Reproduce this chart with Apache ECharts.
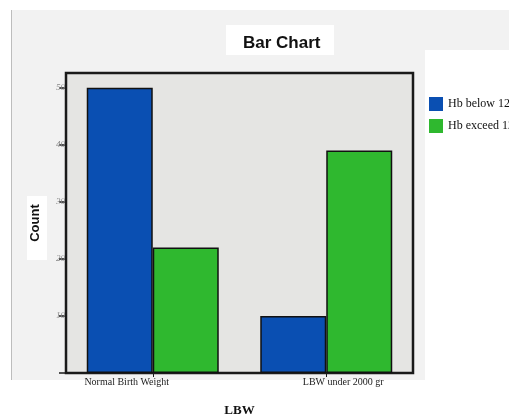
<!DOCTYPE html>
<html>
<head>
<meta charset="utf-8">
<script src="https://cdn.jsdelivr.net/npm/echarts@6/dist/echarts.min.js"></script>
<style>
  html, body { margin: 0; padding: 0; background: #ffffff; }
  #chart { width: 509px; height: 419px; }
</style>
</head>
<body>
<div id="chart"></div>
<script>
// Birth-weight groups and haemoglobin counts
const categories = ['Normal Birth Weight', 'LBW under 2000 gr'];
const hbBelow12 = [50, 10];
const hbExceed12 = [22, 39];
const yTickValues = [0, 10, 20, 30, 40, 50];

const chart = echarts.init(document.getElementById('chart'), null, { renderer: 'canvas' });

chart.setOption({
  animation: false,
  backgroundColor: '#ffffff',
  graphic: [
    // light panel behind the chart
    { type: 'rect', z: -10, shape: { x: 11, y: 10, width: 498, height: 370 }, style: { fill: '#f2f2f2' } },
    { type: 'line', z: -9, shape: { x1: 11.5, y1: 10, x2: 11.5, y2: 419 }, style: { stroke: '#bdbdbd', lineWidth: 1 } },
    // white boxes behind title, axis name and legend
    { type: 'rect', z: -8, shape: { x: 226, y: 25, width: 108, height: 30 }, style: { fill: '#ffffff' } },
    { type: 'rect', z: -8, shape: { x: 27, y: 196, width: 20, height: 64 }, style: { fill: '#ffffff' } },
    { type: 'rect', z: -8, shape: { x: 425, y: 50, width: 84, height: 350 }, style: { fill: '#ffffff' } },
    { type: 'rect', z: -8, shape: { x: 11, y: 380, width: 498, height: 39 }, style: { fill: '#ffffff' } }
  ],
  title: {
    text: 'Bar Chart',
    left: 238,
    top: 30,
    textStyle: { fontFamily: 'Liberation Sans, Arial, sans-serif', fontSize: 17, fontWeight: 'bold', color: '#111' }
  },
  legend: {
    orient: 'vertical',
    left: 424,
    top: 92,
    itemWidth: 14,
    itemHeight: 14,
    itemGap: 8,
    icon: 'rect',
    itemStyle: { borderWidth: 0 },
    textStyle: { fontFamily: 'Liberation Serif, Times New Roman, serif', fontSize: 12, color: '#111' },
    data: ['Hb below 12', 'Hb exceed 12']
  },
  grid: {
    left: 66,
    top: 73,
    width: 347,
    height: 300,
    outerBoundsMode: 'none',
    containLabel: false,
    show: true,
    backgroundColor: '#e5e5e3',
    borderColor: '#1a1a1a',
    borderWidth: 2.5
  },
  xAxis: {
    type: 'category',
    data: categories,
    name: 'LBW',
    nameLocation: 'middle',
    nameGap: 31,
    nameTextStyle: { fontFamily: 'Liberation Serif, Times New Roman, serif', fontSize: 13, fontWeight: 'bold', color: '#111' },
    axisLine: { show: true, lineStyle: { color: '#1a1a1a', width: 2 } },
    axisTick: { show: true, alignWithLabel: true, length: 4, lineStyle: { color: '#1a1a1a' } },
    axisLabel: {
      margin: 4,
      fontFamily: 'Liberation Serif, Times New Roman, serif',
      fontSize: 10,
      color: '#222',
      formatter: function (v, i) { return i === 0 ? '{a|' + v + '}' : '{b|' + v + '}'; },
      rich: {
        a: { fontFamily: 'Liberation Serif, Times New Roman, serif', fontSize: 10, color: '#222', padding: [0, 52, 0, 0] },
        b: { fontFamily: 'Liberation Serif, Times New Roman, serif', fontSize: 10, color: '#222', padding: [0, 0, 0, 34] }
      }
    },
    splitLine: { show: false }
  },
  yAxis: {
    type: 'value',
    min: 0,
    max: 52.6,
    interval: 10,
    name: 'Count',
    nameLocation: 'middle',
    nameGap: 24,
    nameRotate: 90,
    nameTextStyle: { fontFamily: 'Liberation Sans, Arial, sans-serif', fontSize: 13, fontWeight: 'bold', color: '#111' },
    axisLine: { show: true, lineStyle: { color: '#1a1a1a', width: 2 } },
    axisTick: { show: true, inside: false, length: 7, lineStyle: { color: '#1a1a1a', width: 1.5 } },
    axisLabel: {
      margin: 1,
      fontFamily: 'Liberation Serif, Times New Roman, serif',
      fontSize: 9,
      fontStyle: 'italic',
      color: '#8a8a8a',
      showMaxLabel: false,
      formatter: function (v) { return (yTickValues.indexOf(v) > 0) ? String(v) : ''; }
    },
    splitLine: { show: false }
  },
  series: [
    {
      name: 'Hb below 12',
      type: 'bar',
      data: hbBelow12,
      barWidth: 66,
      barGap: '0%',
      itemStyle: { color: '#0a4fb2', borderColor: '#111', borderWidth: 1.5 }
    },
    {
      name: 'Hb exceed 12',
      type: 'bar',
      data: hbExceed12,
      barWidth: 66,
      barGap: '0%',
      itemStyle: { color: '#2fb82f', borderColor: '#111', borderWidth: 1.5 }
    }
  ]
});
</script>
</body>
</html>
